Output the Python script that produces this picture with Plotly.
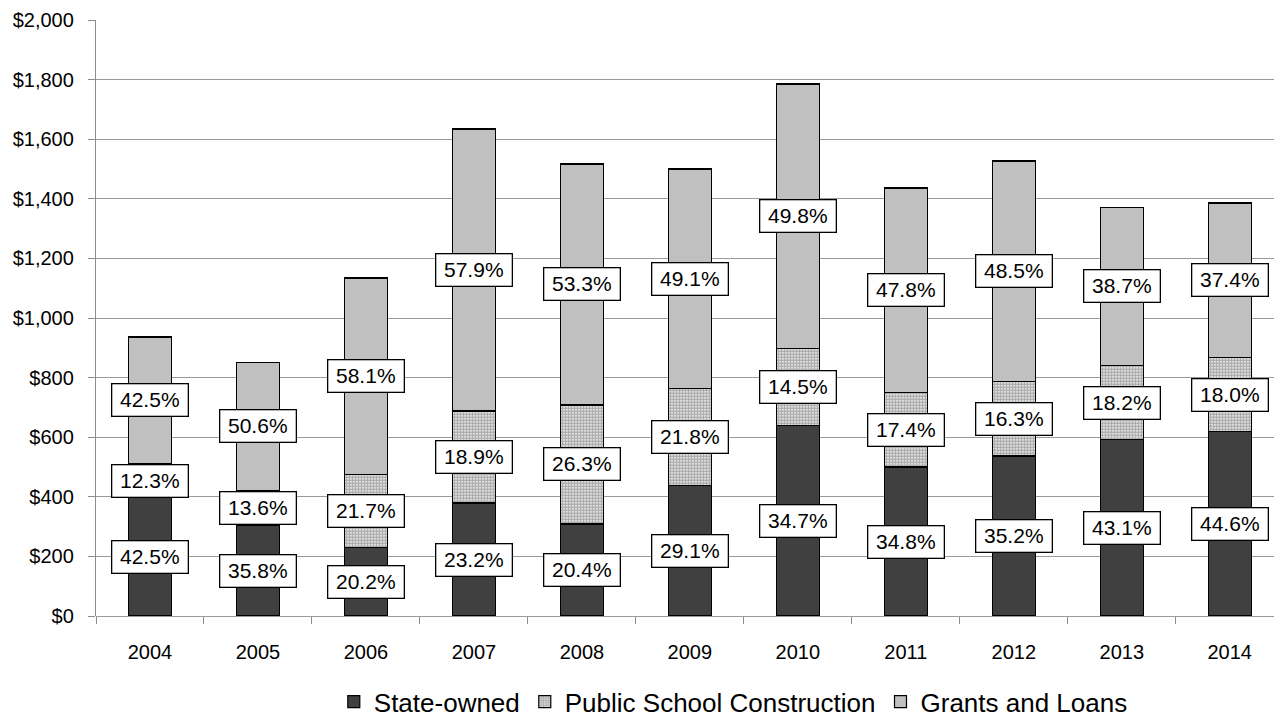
# ---- Import Libs ---- #
import plotly.graph_objects as go

# ---- Data ---- #
anos = ['2004', '2005', '2006', '2007', '2008', '2009', '2010', '2011', '2012', '2013', '2014']
# -> amounts ($):
state_owned = [397, 305, 229, 379, 309, 437, 640, 500, 537, 591, 618]
public_school = [115, 116, 246, 309, 399, 327, 257, 250, 249, 250, 249]
grants_loans = [424, 431, 659, 946, 809, 736, 888, 686, 741, 531, 519]
# -> labels shown in the boxes:
pct_state = ['42.5%', '35.8%', '20.2%', '23.2%', '20.4%', '29.1%', '34.7%', '34.8%', '35.2%', '43.1%', '44.6%']
pct_school = ['12.3%', '13.6%', '21.7%', '18.9%', '26.3%', '21.8%', '14.5%', '17.4%', '16.3%', '18.2%', '18.0%']
pct_grants = ['42.5%', '50.6%', '58.1%', '57.9%', '53.3%', '49.1%', '49.8%', '47.8%', '48.5%', '38.7%', '37.4%']
y_ticks = [0, 200, 400, 600, 800, 1000, 1200, 1400, 1600, 1800, 2000]

FONT = 'Liberation Sans, Arial, sans-serif'

# ---- Figure ---- #
fig = go.Figure()
fig.add_trace(go.Bar(x=anos, y=state_owned, name='State-owned',
                     marker=dict(color='#404040', line=dict(color='black', width=1.2))))
fig.add_trace(go.Bar(x=anos, y=public_school, name='Public School Construction',
                     marker=dict(color='white', line=dict(color='black', width=1.2),
                                 pattern=dict(shape='.', fgcolor='#555555', bgcolor='white',
                                              size=3, solidity=0.75))))
fig.add_trace(go.Bar(x=anos, y=grants_loans, name='Grants and Loans',
                     marker=dict(color='#c0c0c0', line=dict(color='black', width=1.2))))

# -> boxed labels at the middle of each segment (x = category index)
for i, ano in enumerate(anos):
    base = 0
    for val, txt in zip([state_owned[i], public_school[i], grants_loans[i]],
                        [pct_state[i], pct_school[i], pct_grants[i]]):
        fig.add_annotation(x=i, y=base + val / 2, xref='x', yref='y', text=txt,
                           showarrow=False, bgcolor='white', bordercolor='black',
                           borderwidth=1.3, borderpad=1, width=73, height=29,
                           font=dict(family=FONT, size=21, color='black'))
        base += val

fig.update_layout(
    barmode='stack', bargap=0.6,
    width=1274, height=719,
    margin=dict(l=96, r=0, t=20, b=103),
    plot_bgcolor='white', paper_bgcolor='white',
    font=dict(family=FONT, size=20, color='black'),
    showlegend=True,
    legend=dict(orientation='h', x=0.541, xanchor='center',
                yref='container', y=0.024, yanchor='middle',
                font=dict(size=26), traceorder='normal', itemwidth=30),
)
fig.update_xaxes(type='category', range=[-0.5, 10.41], showline=False, showgrid=False,
                 ticks='outside', tickson='boundaries', ticklen=7, tickcolor='#8c8c8c',
                 ticklabelstandoff=22)
fig.update_yaxes(range=[0, 2000], tickvals=y_ticks,
                 ticktext=['${:,}'.format(v) for v in y_ticks],
                 showgrid=True, gridcolor='#9a9a9a', gridwidth=1.3,
                 showline=True, linecolor='#8c8c8c', linewidth=1.3,
                 ticks='outside', ticklen=7, tickcolor='#8c8c8c', ticklabelstandoff=10,
                 zeroline=True, zerolinecolor='#9a9a9a', zerolinewidth=1.3)

fig.write_html("out.html", config={'displayModeBar': False},
               post_script="document.body.style.margin='0';")
